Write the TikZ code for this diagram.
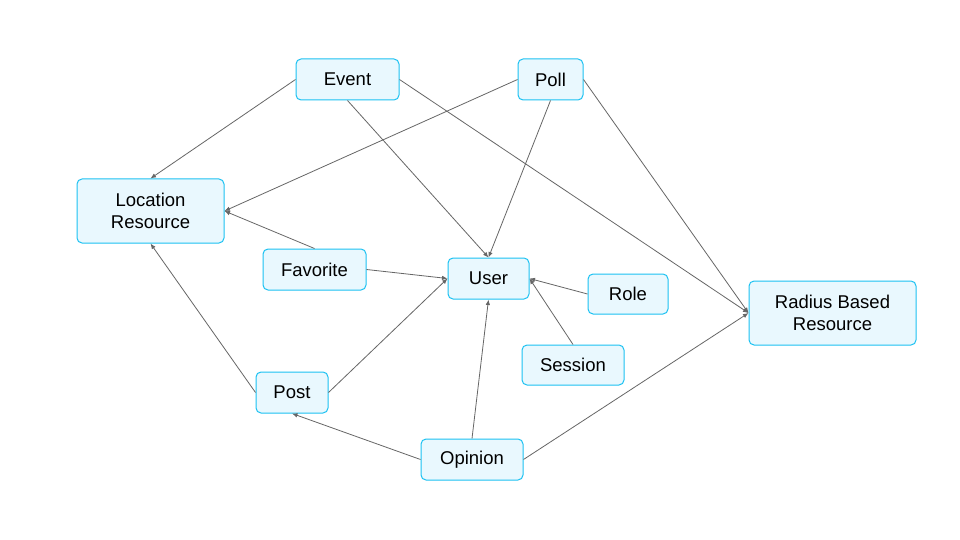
\documentclass[tikz,border=0pt]{standalone}
\usepackage{fontspec}
\setmainfont{Liberation Sans}
\usetikzlibrary{arrows.meta}
\definecolor{boxfill}{HTML}{E9F8FE}
\definecolor{boxline}{HTML}{1CC2F2}
\definecolor{edgec}{HTML}{666666}
\begin{document}
\begin{tikzpicture}[x=1pt,y=-1pt,
  entity/.style={rectangle, rounded corners=5pt, draw=boxline, fill=boxfill, line width=1pt,
    inner sep=0pt, align=center, minimum height=41pt,
    font=\fontsize{18.5pt}{22pt}\selectfont, text=black},
  big/.style={minimum height=64pt},
  link/.style={draw=edgec, line width=0.8pt, -{Latex[length=5.5pt,width=4.5pt]}}]
\path[use as bounding box, fill=white] (0,0) rectangle (960,540);
\node[entity, minimum width=103pt] (event) at (347.5,79.5) {Event};
\node[entity, minimum width=65pt] (poll) at (550.5,79.5) {Poll};
\node[entity, big, minimum width=147pt] (loc) at (150.5,211) {Location\\Resource};
\node[entity, minimum width=103pt] (fav) at (314.5,269.5) {Favorite};
\node[entity, minimum width=81pt] (user) at (488.5,278.5) {User};
\node[entity, minimum width=80pt, minimum height=40pt] (role) at (628,294) {Role};
\node[entity, big, minimum width=167pt] (radius) at (832.5,313) {Radius Based\\Resource};
\node[entity, minimum width=102pt, minimum height=40pt] (session) at (573,365) {Session};
\node[entity, minimum width=72pt] (post) at (292,392.5) {Post};
\node[entity, minimum width=102pt] (opinion) at (472,459.5) {Opinion};
\draw[link] (event.west) -- (loc.north);
\draw[link] (poll.west) -- (loc.east);
\draw[link] (fav.north) -- (loc.east);
\draw[link] (post.west) -- (loc.south);
\draw[link] (event.south) -- (user.north);
\draw[link] (poll.south) -- (user.north);
\draw[link] (fav.east) -- (user.west);
\draw[link] (post.east) -- (user.west);
\draw[link] (opinion.north) -- (user.south);
\draw[link] (role.west) -- (user.east);
\draw[link] (session.north) -- (user.east);
\draw[link] (event.east) -- (radius.west);
\draw[link] (poll.east) -- (radius.west);
\draw[link] (opinion.east) -- (radius.west);
\draw[link] (opinion.west) -- (post.south);
\end{tikzpicture}
\end{document}
